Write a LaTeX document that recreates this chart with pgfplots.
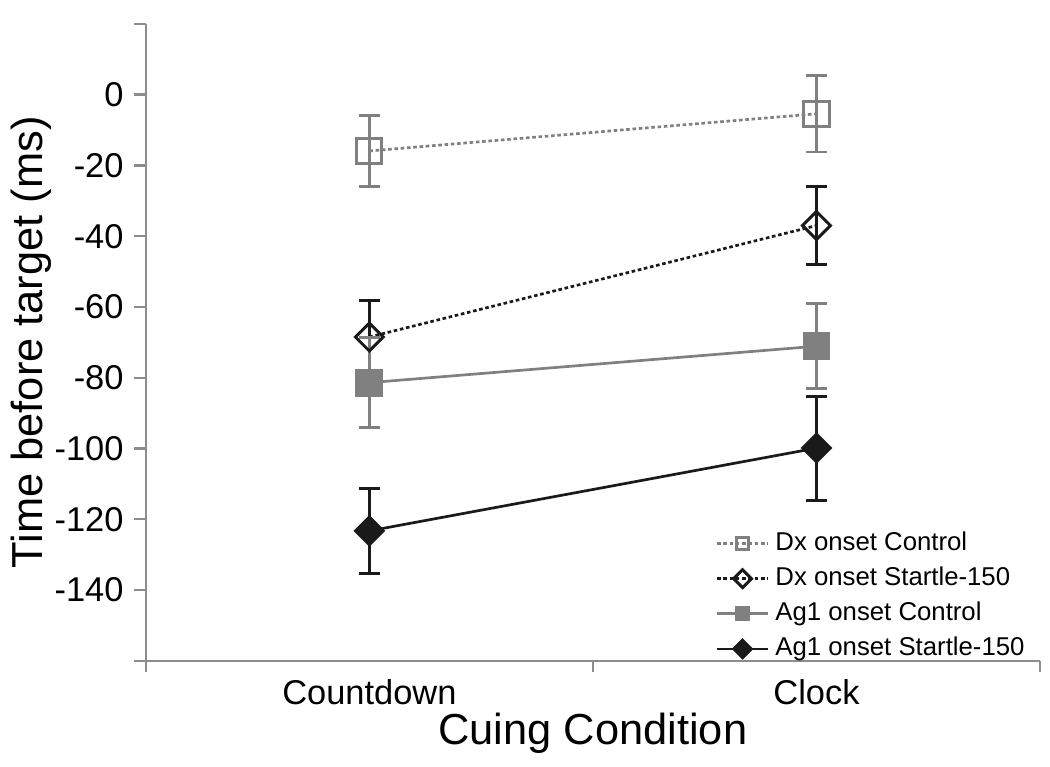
\documentclass[border=0pt]{standalone}
\usepackage{fontspec}
\setmainfont{Liberation Sans}
\usepackage{pgfplots}
\pgfplotsset{compat=1.18}
\usetikzlibrary{calc}
\definecolor{ctrl}{HTML}{808080}
\definecolor{stl}{HTML}{1A1A1A}
\definecolor{axgray}{HTML}{8C8C8C}

\begin{document}
\begin{tikzpicture}
\begin{axis}[
  name=ax,
  scale only axis,
  width=298.7pt, height=212.7pt,
  xmin=0, xmax=2, ymin=-160, ymax=20,
  axis x line*=bottom, axis y line*=left,
  axis line style={-, axgray, line width=0.8pt},
  every tick/.style={axgray, line width=0.8pt},
  tick align=outside,
  major tick length=3.9pt,
  xtick={0,1,2}, xticklabels={,,},
  extra x ticks={0.5,1.5},
  extra x tick labels={Countdown,Clock},
  extra x tick style={major tick length=0pt, tick label style={yshift=-2.8pt}},
  ytick={-160,-140,...,20},
  yticklabels={,-140,-120,-100,-80,-60,-40,-20,0,},
  tick label style={font=\fontsize{11.5}{13}\selectfont},
  xlabel={Cuing Condition},
  ylabel={Time before target (ms)},
  label style={font=\fontsize{14.5}{17}\selectfont},
  xlabel style={at={(axis description cs:0.5,-0.114)}, anchor=center},
  ylabel style={yshift=-5.7pt},
  legend style={at={(0.99,-0.01)}, anchor=south east, draw=none, fill=none,
    font=\fontsize{8.6}{10}\selectfont, row sep=0pt, inner sep=0pt},
  legend cell align=left,
  legend image post style={mark size=2.1pt},
  error bars/error bar style={line width=1pt, solid},
]
% Dx onset Control
\addplot[ctrl, line width=0.9pt, dash pattern=on 1.2pt off 0.9pt,
  mark=square, mark size=4.2pt, mark options={solid, fill=white, line width=1pt},
  error bars/.cd, y dir=both, y explicit,
  error mark=|, error mark options={ctrl, mark size=3.5pt, line width=1pt}]
  coordinates {(0.5,-15.9) +- (0,10.0) (1.5,-5.4) +- (0,10.8)};
\addlegendentry{Dx onset Control}
% Dx onset Startle-150
\addplot[stl, line width=0.9pt, dash pattern=on 1.2pt off 0.9pt,
  mark=square, mark size=3.3pt, mark options={solid, rotate=45, fill=white, line width=1pt},
  error bars/.cd, y dir=both, y explicit,
  error mark=|, error mark options={stl, mark size=3.5pt, line width=1pt}]
  coordinates {(0.5,-68.5) +- (0,10.3) (1.5,-37.0) +- (0,11.0)};
\addlegendentry{Dx onset Startle-150}
% Ag1 onset Control
\addplot[ctrl, line width=0.9pt,
  mark=square*, mark size=4.2pt, mark options={solid, fill=ctrl},
  error bars/.cd, y dir=both, y explicit,
  error mark=|, error mark options={ctrl, mark size=3.5pt, line width=1pt}]
  coordinates {(0.5,-81.4) +- (0,12.7) (1.5,-71.1) +- (0,12.0)};
\addlegendentry{Ag1 onset Control}
% Ag1 onset Startle-150
\addplot[stl, line width=0.9pt,
  mark=square*, mark size=3.3pt, mark options={solid, rotate=45, fill=stl},
  error bars/.cd, y dir=both, y explicit,
  error mark=|, error mark options={stl, mark size=3.5pt, line width=1pt}]
  coordinates {(0.5,-123.3) +- (0,12.1) (1.5,-99.9) +- (0,14.7)};
\addlegendentry{Ag1 onset Startle-150}
\end{axis}
\path ($(ax.south west)+(-48.7pt,-35.3pt)$) rectangle ($(ax.north east)+(2.7pt,8pt)$);
\end{tikzpicture}
\end{document}
